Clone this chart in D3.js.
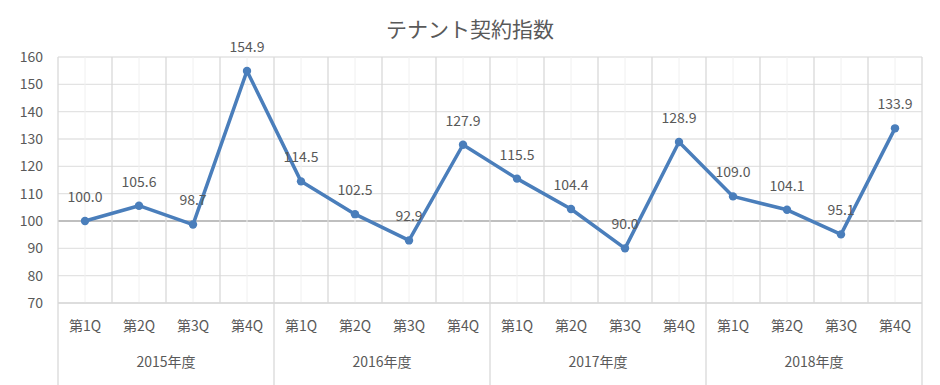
<!DOCTYPE html>
<html><head><meta charset="utf-8">
<script src="https://cdn.jsdelivr.net/npm/d3@7"></script>
<style>body{margin:0;background:#fff;}svg{display:block;font-family:"Noto Sans CJK JP","Noto Sans",sans-serif;}</style>
</head><body>
<svg id="c" width="940" height="385"></svg>
<script>
const title = "テナント契約指数";
const years = ["2015年度","2016年度","2017年度","2018年度"];
const quarters = ["第1Q","第2Q","第3Q","第4Q"];
const values = [100.0,105.6,98.7,154.9,114.5,102.5,92.9,127.9,115.5,104.4,90.0,128.9,109.0,104.1,95.1,133.9];
const yTicks = [70,80,90,100,110,120,130,140,150,160];

const svg = d3.select("#c");
const L = 58, R = 922, T = 57, B = 303;
const cats = [];
years.forEach(y => quarters.forEach(q => cats.push(y + "|" + q)));
const x = d3.scaleBand().domain(cats).range([L, R]);
const y = d3.scaleLinear().domain([70,160]).range([B, T]);
const col = "#595959";
const fs = 14;

svg.append("text").attr("x", 470).attr("y", 30).attr("dy","0.35em").attr("text-anchor","middle")
  .attr("font-size", 21).attr("fill", col).text(title);

// horizontal grid
svg.append("g").selectAll("line").data(yTicks).join("line")
  .attr("x1", L).attr("x2", R).attr("y1", d => y(d)).attr("y2", d => y(d))
  .attr("stroke", d => d === 100 ? "#bfbfbf" : "#e3e3e3")
  .attr("stroke-width", d => d === 100 ? 2 : 1.3);

// minor vertical grid (category centres)
svg.append("g").selectAll("line").data(cats).join("line")
  .attr("x1", d => x(d) + x.bandwidth()/2).attr("x2", d => x(d) + x.bandwidth()/2)
  .attr("y1", T).attr("y2", B).attr("stroke", "#f0f0f0").attr("stroke-width", 1);

// major vertical grid (category boundaries)
svg.append("g").selectAll("line").data(cats.slice(1)).join("line")
  .attr("x1", d => x(d)).attr("x2", d => x(d))
  .attr("y1", T).attr("y2", (d,i) => ((i+1) % 4 === 0) ? 385 : B)
  .attr("stroke", "#d9d9d9").attr("stroke-width", 1.3);
// outer edges
[L, R].forEach(xx => svg.append("line").attr("x1", xx).attr("x2", xx).attr("y1", T).attr("y2", 385)
  .attr("stroke", "#d9d9d9").attr("stroke-width", 1.3));
svg.append("line").attr("x1", L).attr("x2", R).attr("y1", B).attr("y2", B)
  .attr("stroke", "#d9d9d9").attr("stroke-width", 1.3);

// y axis labels
svg.append("g").selectAll("text").data(yTicks).join("text")
  .attr("x", 43).attr("y", d => y(d)).attr("dy", "0.35em").attr("text-anchor", "end")
  .attr("font-size", fs).attr("fill", col).text(d => d);

// category labels
svg.append("g").selectAll("text").data(cats).join("text")
  .attr("x", d => x(d) + x.bandwidth()/2).attr("y", 326).attr("dy", "0.35em")
  .attr("text-anchor", "middle").attr("font-size", fs).attr("fill", col)
  .text(d => d.split("|")[1]);
svg.append("g").selectAll("text").data(years).join("text")
  .attr("x", (d,i) => (x(cats[i*4]) + x(cats[i*4+3]) + x.bandwidth())/2).attr("y", 362).attr("dy", "0.35em")
  .attr("text-anchor", "middle").attr("font-size", fs).attr("fill", col).text(d => d);

// line
const pts = values.map((v,i) => [x(cats[i]) + x.bandwidth()/2, y(v)]);
svg.append("path").attr("d", d3.line()(pts)).attr("fill","none")
  .attr("stroke", "#4a7ebb").attr("stroke-width", 3.5).attr("stroke-linejoin","round");
svg.append("g").selectAll("circle").data(pts).join("circle")
  .attr("cx", d => d[0]).attr("cy", d => d[1]).attr("r", 4.2).attr("fill", "#4a7ebb");

// data labels
svg.append("g").selectAll("text").data(values).join("text")
  .attr("x", (d,i) => pts[i][0]).attr("y", (d,i) => pts[i][1] - 24).attr("dy", "0.35em")
  .attr("text-anchor", "middle").attr("font-size", fs).attr("fill", col)
  .text(d => d.toFixed(1));
</script>
</body></html>
